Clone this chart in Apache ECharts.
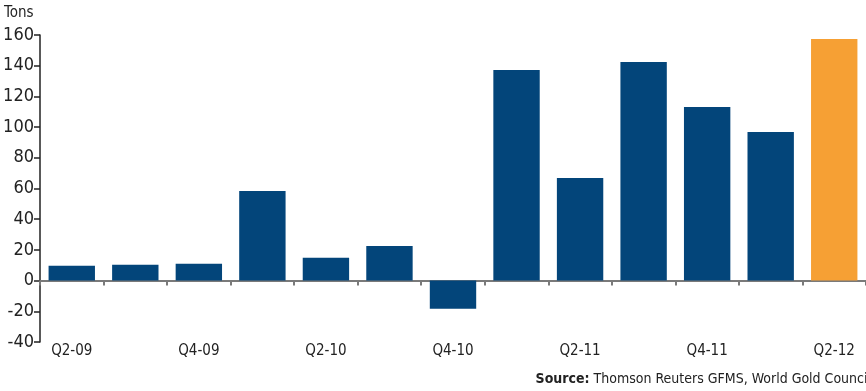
<!DOCTYPE html>
<html>
<head>
<meta charset="utf-8">
<script src="https://cdn.jsdelivr.net/npm/echarts@6/dist/echarts.min.js"></script>
<style>
  html, body { margin: 0; padding: 0; background: #fff; }
  #chart { width: 866px; height: 391px; }
</style>
</head>
<body>
<div id="chart"></div>
<script>
// Quarterly net demand, tons
const quarters = ['Q2-09', 'Q3-09', 'Q4-09', 'Q1-10', 'Q2-10', 'Q3-10', 'Q4-10',
                  'Q1-11', 'Q2-11', 'Q3-11', 'Q4-11', 'Q1-12', 'Q2-12'];
const tons = [9.7, 10.4, 11, 58.4, 14.9, 22.5, -18.3, 137.2, 66.8, 142.4, 113.1, 96.8, 157.4];
const highlightIndex = 12;

const yMin = -40, yMax = 160, yStep = 20;

const FONT = "'DejaVu Sans Condensed', 'Liberation Sans', sans-serif";
const BLUE = '#03457a';
const ORANGE = '#f6a034';
const INK = '#222222';
const GREY = '#7a7a7a';

const chart = echarts.init(document.getElementById('chart'), null, { renderer: 'canvas' });

chart.setOption({
  animation: false,
  backgroundColor: '#ffffff',
  textStyle: { fontFamily: FONT },
  grid: { left: 40, top: 35, width: 829, bottom: 49, containLabel: false },
  graphic: [
    {
      type: 'text', left: 4, top: 6,
      style: { text: 'Tons', fontFamily: FONT, fontSize: 15, fill: INK }
    },
    {
      type: 'text', right: -5, top: 372,
      style: {
        text: '{b|Source:} Thomson Reuters GFMS, World Gold Council',
        fontFamily: FONT, fontSize: 14, fill: INK,
        rich: { b: { fontFamily: FONT, fontSize: 14, fontWeight: 'bold', fill: INK } }
      }
    }
  ],
  xAxis: [
    {
      // baseline through zero with boundary ticks
      type: 'category',
      data: quarters,
      boundaryGap: true,
      axisLine: { onZero: true, lineStyle: { color: GREY, width: 2 } },
      axisTick: { show: true, length: 5, interval: 0, lineStyle: { color: GREY, width: 2 } },
      axisLabel: { show: false },
      splitLine: { show: false }
    },
    {
      // quarter labels along the bottom edge
      type: 'category',
      data: quarters,
      position: 'bottom',
      boundaryGap: true,
      axisLine: { show: false, onZero: false },
      axisTick: { show: false },
      axisLabel: { interval: 1, margin: 2, fontSize: 15, color: INK, fontFamily: FONT },
      splitLine: { show: false }
    }
  ],
  yAxis: {
    type: 'value',
    min: yMin, max: yMax, interval: yStep,
    axisLine: { show: true, onZero: false, lineStyle: { color: INK, width: 1.5 } },
    axisTick: { show: true, length: 6, lineStyle: { color: INK, width: 1.5 } },
    axisLabel: { margin: 6, fontSize: 18, color: INK, fontFamily: FONT },
    splitLine: { show: false }
  },
  series: [{
    type: 'bar',
    xAxisIndex: 0,
    barCategoryGap: '27%',
    data: tons.map((v, i) => ({
      value: v,
      itemStyle: { color: i === highlightIndex ? ORANGE : BLUE }
    }))
  }]
});
</script>
</body>
</html>
